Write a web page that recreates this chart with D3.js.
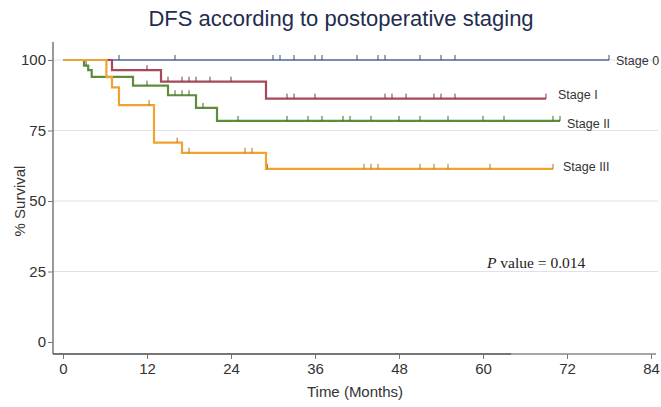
<!DOCTYPE html>
<html>
<head>
<meta charset="utf-8">
<script src="https://cdn.jsdelivr.net/npm/d3@7"></script>
<style>
  body { margin: 0; background: #fff; }
  svg { display: block; font-family: Arial, "Liberation Sans", sans-serif; }
</style>
</head>
<body>
<svg id="km" width="661" height="407"></svg>
<script>
// Kaplan-Meier steps: step times (months) and survival (%)
const stage0Times = [0]
const stage0Surv = [100]
const stage0Censor = [8, 16, 30, 31, 33, 36, 37, 42, 45, 46, 51, 54, 56, 78]
const stage0End = 78

const stage1Times = [0, 7, 14, 29]
const stage1Surv = [100, 96.4, 92.3, 86.3]
const stage1Censor = [12, 15, 17, 18, 19, 21, 24, 32, 33, 36, 46, 47, 49, 53, 54, 56, 69]
const stage1End = 69

const stage2Times = [0, 3, 3.6, 4.1, 10, 15, 19, 22]
const stage2Surv = [100, 98, 96.4, 94, 90.9, 87.5, 83, 78.4]
const stage2Censor = [3.3, 12, 16, 17, 18, 20, 25, 32, 35, 37, 40, 41, 44, 48, 51, 55, 60, 63, 70, 71]
const stage2End = 71

const stage3Times = [0, 6.2, 7, 8, 13, 17, 29]
const stage3Surv = [100, 93.9, 90.3, 84, 70.7, 67.1, 61.4]
const stage3Censor = [12.3, 16.3, 18, 26, 27, 29.2, 43, 44, 45, 51, 53, 55, 61, 70]
const stage3End = 70

const stageNames = ["Stage 0", "Stage I", "Stage II", "Stage III"]
const xTicks = [0, 12, 24, 36, 48, 60, 72, 84]
const yTicks = [0, 25, 50, 75, 100]

const stages = [
  { name: stageNames[0], times: stage0Times, surv: stage0Surv, censor: stage0Censor, end: stage0End, color: "#4f6c9e", w: 1.6, dx: 7, dy: 1 },
  { name: stageNames[1], times: stage1Times, surv: stage1Surv, censor: stage1Censor, end: stage1End, color: "#a8485a", w: 2.2, dx: 12, dy: -4 },
  { name: stageNames[2], times: stage2Times, surv: stage2Surv, censor: stage2Censor, end: stage2End, color: "#5f8c3c", w: 2.2, dx: 7, dy: 3 },
  { name: stageNames[3], times: stage3Times, surv: stage3Surv, censor: stage3Censor, end: stage3End, color: "#f0a232", w: 2.2, dx: 10, dy: -2 }
]

const svg = d3.select("#km")

const x = d3.scaleLinear().domain([0, 84]).range([63, 651])
const y = d3.scaleLinear().domain([0, 100]).range([342, 60])

const axisX = 53, axisY = 354

// gridlines
svg.append("g")
  .selectAll("line")
  .data(yTicks.filter(d => d > 0))
  .join("line")
    .attr("x1", axisX).attr("x2", 658)
    .attr("y1", d => y(d)).attr("y2", d => y(d))
    .attr("stroke", "#dfe1ef")
    .attr("stroke-width", 1.2)

// y axis
const gy = svg.append("g")
  .attr("transform", `translate(${axisX},0)`)
  .call(d3.axisLeft(y).tickValues(yTicks).tickSize(5).tickPadding(2))
gy.select(".domain").remove()
gy.selectAll(".tick line").attr("stroke", "#777")
gy.selectAll(".tick text").attr("fill", "#333").style("font-size", "15px")
svg.append("line")
  .attr("x1", axisX).attr("x2", axisX).attr("y1", 42).attr("y2", axisY)
  .attr("stroke", "#777").attr("stroke-width", 1.5)

// x axis
const gx = svg.append("g")
  .attr("transform", `translate(0,${axisY})`)
  .call(d3.axisBottom(x).tickValues(xTicks).tickSize(5).tickPadding(4))
gx.select(".domain").remove()
gx.selectAll(".tick line").attr("stroke", "#777")
gx.selectAll(".tick text").attr("fill", "#333").style("font-size", "15px")
svg.append("line")
  .attr("x1", axisX).attr("x2", 656).attr("y1", axisY).attr("y2", axisY)
  .attr("stroke", "#888").attr("stroke-width", 1.5)
svg.append("line")
  .attr("x1", axisX).attr("x2", x(64)).attr("y1", axisY).attr("y2", axisY)
  .attr("stroke", "#666").attr("stroke-width", 1.5)

// curves
const stepLevel = (s, t) => {
  let v = s.surv[0]
  s.times.forEach((tt, i) => { if (tt <= t) v = s.surv[i] })
  return v
}

const line = d3.line().x(d => x(d[0])).y(d => y(d[1])).curve(d3.curveStepAfter)

const curves = svg.append("g")
stages.forEach(s => {
  const pts = s.times.map((t, i) => [t, s.surv[i]])
  pts.push([s.end, s.surv[s.surv.length - 1]])

  curves.append("path")
    .datum(pts)
    .attr("d", line)
    .attr("fill", "none")
    .attr("stroke", s.color)
    .attr("stroke-width", s.w)

  curves.append("g")
    .selectAll("line")
    .data(s.censor)
    .join("line")
      .attr("x1", d => x(d)).attr("x2", d => x(d))
      .attr("y1", d => y(stepLevel(s, d)))
      .attr("y2", d => y(stepLevel(s, d)) - 5)
      .attr("stroke", d3.color(s.color).darker(0.9))
      .attr("stroke-width", 1)

  svg.append("text")
    .attr("x", x(s.end) + s.dx)
    .attr("y", y(s.surv[s.surv.length - 1]) + s.dy)
    .attr("dy", "0.35em")
    .attr("fill", "#333")
    .style("font-size", "12.5px")
    .text(s.name)
})

// titles
svg.append("text")
  .attr("x", 341).attr("y", 26)
  .attr("text-anchor", "middle")
  .attr("fill", "#1f2d4f")
  .style("font-size", "22px")
  .text("DFS according to postoperative staging")

svg.append("text")
  .attr("transform", `translate(20,${(y(0) + y(100)) / 2}) rotate(-90)`)
  .attr("text-anchor", "middle")
  .attr("dy", "0.35em")
  .attr("fill", "#333")
  .style("font-size", "15px")
  .text("% Survival")

svg.append("text")
  .attr("x", (x(0) + x(84)) / 2 - 2).attr("y", 397)
  .attr("text-anchor", "middle")
  .attr("fill", "#333")
  .style("font-size", "15px")
  .text("Time (Months)")

const pv = svg.append("text")
  .attr("x", 487).attr("y", 268)
  .attr("fill", "#222")
  .style("font-family", "'Liberation Serif', 'Times New Roman', serif")
  .style("font-size", "15.5px")
pv.append("tspan").style("font-style", "italic").text("P")
pv.append("tspan").text(" value = 0.014")
</script>
</body>
</html>
